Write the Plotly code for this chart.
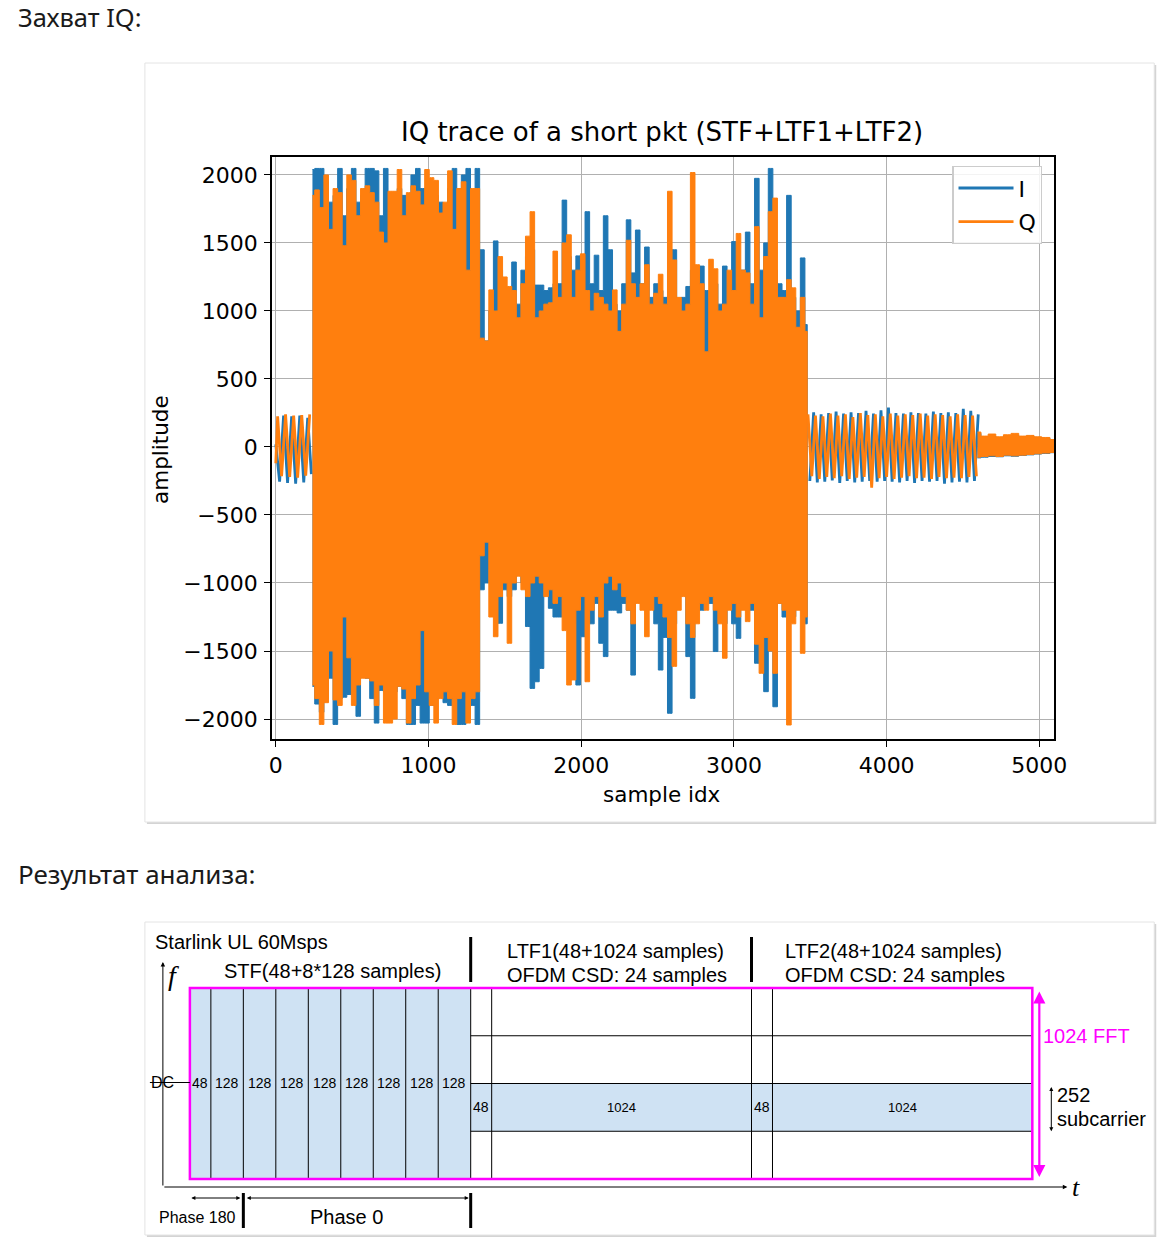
import plotly.graph_objects as go

# figure size; drawing coordinates below are pixels of the reference picture
W, H = 1172, 1237
SX_A, SX_B = 3.0, 0.987      # horizontal page->screen mapping observed in the renders


def fx(X):
    """figure pixel for a reference pixel X (horizontal)."""
    return (X - SX_A) / SX_B


# ===================== DATA =====================
x_tickvals = [0, 1000, 2000, 3000, 4000, 5000]
y_tickvals = [-2000, -1500, -1000, -500, 0, 500, 1000, 1500, 2000]

# lead-in (samples 0..233): oscillation peaks / troughs
lead_i_x = [0, 25, 51, 77, 104, 130, 157, 183, 209, 233]
lead_i_y = [20, -255, 230, -265, 225, -270, 230, -260, 215, -200]
lead_q_x = [0, 12, 38, 64, 91, 117, 143, 170, 196, 222]
lead_q_y = [-120, 225, -215, 240, -220, 230, -225, 235, -210, 240]

# dense part: envelope (max / min in each 30-sample bin)
stf_x = list(range(240, 1321, 30))    # STF section sample index
ltf_x = list(range(1350, 3481, 30))   # LTF1+LTF2 section sample index

i_hi_stf = [2040, 2048, 2048, 1950, 1800, 1850, 2048, 1700, 1900, 2048, 1800, 1850, 2048,
            2048, 2030, 1700, 2048, 1800, 1800, 1900, 1850, 1850, 2000, 2048, 1900, 1900,
            1900, 1850, 1800, 1750, 1900, 2048, 1900, 2000, 2048, 1850, 2048]
q_hi_stf = [1850, 1890, 1760, 2000, 1600, 1900, 1870, 1480, 2000, 1960, 1700, 1900, 1920,
            1870, 1800, 1580, 1500, 1880, 1880, 2040, 1700, 1870, 1920, 1880, 1780, 2040,
            1980, 1960, 1720, 1800, 2030, 1600, 1900, 1950, 1300, 1900, 1900]
i_lo_stf = [-1760, -1890, -1950, -1850, -1700, -2040, -1850, -1840, -1820, -1800, -1980,
            -1650, -1700, -1850, -2030, -1790, -1800, -1900, -1800, -1760, -1850, -2040,
            -2040, -1900, -2030, -2030, -1900, -1850, -1800, -1880, -1900, -1850, -2040,
            -2040, -1850, -1900, -2040]
q_lo_stf = [-1750, -1850, -2040, -1880, -1500, -1860, -1900, -1250, -1550, -1900, -1750,
            -1700, -1700, -1720, -1900, -1750, -2030, -2030, -2000, -1760, -1780, -2030,
            -1850, -1750, -1350, -1800, -1900, -2030, -1850, -1800, -1850, -2040, -1850,
            -1800, -2030, -1850, -1800]

i_hi_ltf = [1450, 780, 1000, 1515, 1300, 1150, 1100, 1360, 1050, 1300, 1400, 1450, 1190,
            1190, 1150, 1170, 1200, 1200, 1815, 1400, 1300, 1405, 1300, 1730, 1200, 1410,
            1150, 1700, 1450, 1050, 1000, 1200, 1670, 1280, 1595, 1200, 1470, 1100, 1200,
            1150, 1100, 1300, 1450, 1050, 1100, 1180, 1300, 1250, 1330, 1150, 1100, 1200,
            1050, 1330, 1200, 1510, 1200, 1300, 1580, 1200, 1975, 1300, 1500, 2048, 1300,
            1200, 1150, 1850, 1100, 1000, 1390, 900]
q_hi_ltf = [800, 780, 1155, 1000, 1400, 1250, 1180, 1150, 950, 1200, 1550, 1730, 950,
            1000, 1050, 1060, 1440, 1100, 1500, 1560, 1100, 1300, 1420, 1150, 1000, 1130,
            1100, 1050, 1000, 1155, 850, 1050, 1520, 1200, 1100, 1200, 1340, 1050, 1130,
            1270, 1050, 1880, 1375, 1100, 1000, 1050, 2018, 1340, 1200, 700, 1380, 1310,
            1000, 1050, 1300, 1150, 1570, 1300, 1280, 1050, 1620, 950, 1400, 1730, 1830,
            1100, 1100, 1230, 1170, 880, 1100, 850]
i_lo_ltf = [-1050, -1000, -900, -1000, -1296, -1050, -1100, -1050, -800, -1000, -1320,
            -1775, -1726, -1628, -1050, -1186, -1250, -1250, -1100, -1200, -1300, -1750,
            -1395, -1200, -1300, -1150, -1443, -1541, -1200, -1200, -1220, -1150, -1200,
            -1677, -1100, -1100, -1200, -1100, -1300, -1640, -1400, -1958, -1300, -1100,
            -1050, -1541, -1848, -1100, -1200, -1150, -1150, -1504, -1150, -1300, -1150,
            -1300, -1407, -1150, -1200, -1200, -1590, -1400, -1799, -1500, -1910, -1150,
            -1250, -1200, -1248, -1150, -1200, -1300]
q_lo_ltf = [-800, -700, -1250, -1395, -1100, -1000, -1443, -1000, -950, -1050, -1100,
            -1000, -950, -1000, -1100, -1050, -1150, -1100, -1350, -1750, -1713, -1200,
            -1100, -1726, -1200, -1100, -1250, -1000, -950, -1050, -1000, -1100, -1200,
            -1300, -1150, -1200, -1395, -1200, -1100, -1150, -1250, -1400, -1613, -1200,
            -1100, -1300, -1400, -1300, -1150, -1200, -1100, -1200, -1300, -1553, -1200,
            -1150, -1250, -1200, -1284, -1150, -1450, -1664, -1400, -1500, -1664, -1150,
            -1200, -2044, -1300, -1200, -1517, -1250]

# quiet part after the LTFs: oscillation peaks / troughs
mid_q_x = [3485, 3510, 3534, 3559, 3583, 3608, 3632, 3657, 3681, 3706, 3730, 3755, 3779,
           3804, 3828, 3853, 3877, 3902, 3926, 3951, 3975, 4000, 4024, 4049, 4073, 4098,
           4122, 4147, 4171, 4196, 4220, 4245, 4269, 4294, 4318, 4343, 4367, 4392, 4416,
           4441, 4465, 4490, 4514, 4539, 4563, 4588]
mid_q_y = [240, -215, 230, -235, 225, -220, 245, -230, 230, -215, 240, -235, 220, -225,
           250, -220, 235, -300, 240, -230, 225, -220, 245, -235, 230, -225, 240, -215,
           235, -230, 245, -225, 230, -235, 240, -220, 235, -230, 225, -225, 240, -230,
           235, -220, 230, -215]
mid_i_x = [3497, 3522, 3546, 3571, 3595, 3620, 3644, 3669, 3693, 3718, 3742, 3767, 3791,
           3816, 3840, 3865, 3889, 3914, 3938, 3963, 3987, 4012, 4036, 4061, 4085, 4110,
           4134, 4159, 4183, 4208, 4232, 4257, 4281, 4306, 4330, 4355, 4379, 4404, 4428,
           4453, 4477, 4502, 4526, 4551, 4575, 4600]
mid_i_y = [-250, 255, -260, 240, -255, 250, -245, 260, -265, 245, -250, 255, -260, 250,
           -255, 265, -250, 245, -255, 270, -250, 290, -255, 250, -260, 245, -250, 255,
           -265, 250, -250, 245, -255, 260, -250, 250, -270, 255, -260, 250, -255, 280,
           -260, 265, -250, 240]

# residual tail: envelope
tail_x = [4595, 4640, 4690, 4740, 4790, 4840, 4890, 4940, 4990, 5040, 5098]
tail_q_hi = [110, 80, 95, 75, 90, 100, 80, 85, 75, 70, 55]
tail_q_lo = [-75, -70, -65, -70, -60, -65, -60, -55, -50, -45, -40]
tail_i_hi = [100, 70, 80, 70, 80, 85, 75, 80, 70, 65, 50]
tail_i_lo = [-80, -75, -70, -72, -65, -68, -62, -58, -52, -48, -42]

# analysis diagram
stf_cells = [48, 128, 128, 128, 128, 128, 128, 128, 128]
ltf_cells = [48, 1024]
fft_size = 1024
fft_rows = [0, 256, 512, 768, 1024]
band_rows = (512, 768)

# ===================== LAYOUT CONSTANTS =====================
BLUE, ORANGE = "#1f77b4", "#ff7f0e"
LBLUE, MAG = "#cfe2f3", "#ff00ff"
MPL = "DejaVu Sans"
ARIAL = "Liberation Sans"
cell_w = {48: 21.0, 128: 32.5, 1024: 260.0}   # drawn width of a cell (px)
DX0, DTOP, DBOT = 190, 988, 1179                # diagram box (px)

fig = go.Figure()


def band(xs, hi, lo, color):
    return go.Scatter(x=xs + xs[::-1], y=hi + lo[::-1], mode="lines", fill="toself",
                      fillcolor=color, line=dict(color=color, width=1, shape="hvh"),
                      hoverinfo="skip", showlegend=False)


dense_x = stf_x + ltf_x
series = [
    ("I", BLUE, lead_i_x, lead_i_y, i_hi_stf + i_hi_ltf, i_lo_stf + i_lo_ltf,
     mid_i_x, mid_i_y, tail_i_hi, tail_i_lo),
    ("Q", ORANGE, lead_q_x, lead_q_y, q_hi_stf + q_hi_ltf, q_lo_stf + q_lo_ltf,
     mid_q_x, mid_q_y, tail_q_hi, tail_q_lo),
]
for name, col, lx, ly, hi, lo, mx, my, thi, tlo in series:
    fig.add_trace(go.Scatter(x=lx, y=ly, mode="lines", name=name, legendgroup=name,
                             line=dict(color=col, width=2.8), hoverinfo="skip"))
    fig.add_trace(band(dense_x, hi, lo, col))
    fig.add_trace(go.Scatter(x=mx, y=my, mode="lines", legendgroup=name, showlegend=False,
                             line=dict(color=col, width=2.8), hoverinfo="skip"))
    fig.add_trace(band(tail_x, thi, tlo, col))

# invisible trace on the pixel overlay axes
fig.add_trace(go.Scatter(x=[None], y=[None], xaxis="x2", yaxis="y2", showlegend=False,
                         hoverinfo="skip"))

shapes = []
ann = []


def pbox(x0, y0, x1, y1, **kw):
    d = dict(type="rect", xref="paper", yref="paper", x0=fx(x0) / W, x1=fx(x1) / W,
             y0=1 - y1 / H, y1=1 - y0 / H, layer="below")
    d.update(kw)
    return d


# cards
for (x0, y0, x1, y1) in [(145, 63, 1155, 822), (145, 922, 1155, 1235)]:
    shapes.append(pbox(x0 + 2, y0 + 2, x1 + 2, y1 + 2, fillcolor="#d4d4d4", line=dict(width=0)))
    shapes.append(pbox(x0, y0, x1, y1, fillcolor="white", line=dict(color="#e4e4e4", width=1)))


def line(x0, y0, x1, y1, w=1, c="black"):
    shapes.append(dict(type="line", xref="x2", yref="y2", x0=x0, y0=y0, x1=x1, y1=y1,
                       line=dict(color=c, width=w), layer="above"))


def rect(x0, y0, x1, y1, fill=None, lc=None, lw=0):
    shapes.append(dict(type="rect", xref="x2", yref="y2", x0=x0, y0=y0, x1=x1, y1=y1,
                       fillcolor=fill if fill else "rgba(0,0,0,0)",
                       line=dict(color=lc if lc else "rgba(0,0,0,0)", width=lw), layer="above"))


def text(x, y, s, size=20, color="black", family=ARIAL, xa="left", angle=0):
    ann.append(dict(xref="x2", yref="y2", x=x, y=y, text=s, showarrow=False,
                    xanchor=xa, yanchor="middle", textangle=angle, borderpad=0,
                    font=dict(family=family, size=size, color=color)))


def arrow(x0, y0, x1, y1, both=False, color="black", w=1, size=1.0, head=2):
    ann.append(dict(xref="x2", yref="y2", axref="x2", ayref="y2", x=x1, y=y1, ax=x0, ay=y0,
                    text="", showarrow=True, arrowhead=head, startarrowhead=head,
                    arrowsize=size, startarrowsize=size, arrowwidth=w, arrowcolor=color,
                    arrowside="end+start" if both else "end", standoff=0, startstandoff=0))


# --- page texts
text(17, 17, "Захват IQ:", size=25.5, color="#1a1a1a", family="Noto Sans")
text(17, 874, "Результат анализа:", size=26, color="#1a1a1a", family="Noto Sans")

# --- chart texts
text(662, 132, "IQ trace of a short pkt (STF+LTF1+LTF2)", size=26, family=MPL, xa="center")
text(160, 449, "amplitude", size=21.5, family=MPL, xa="center", angle=-90)
text(662, 794, "sample idx", size=21.5, family=MPL, xa="center")

# --- diagram geometry from cell sizes
def yrow(r):
    return DTOP + (DBOT - DTOP) * r / fft_size

stf_edges = [DX0]
for c in stf_cells:
    stf_edges.append(stf_edges[-1] + cell_w[c])
ltf_edges = [stf_edges[-1]]
for _ in range(2):
    for c in ltf_cells:
        ltf_edges.append(ltf_edges[-1] + cell_w[c])
DX1 = ltf_edges[-1]

rect(DX0, DTOP, stf_edges[-1], DBOT, fill=LBLUE)
rect(stf_edges[-1], yrow(band_rows[0]), DX1, yrow(band_rows[1]), fill=LBLUE)
for xe in stf_edges[1:-1]:
    line(xe, DTOP, xe, DBOT)
for xe in ltf_edges[:-1]:
    line(xe, DTOP, xe, DBOT)
for r in fft_rows[1:-1]:
    line(stf_edges[-1], yrow(r), DX1, yrow(r))
rect(DX0, DTOP, DX1, DBOT, lc=MAG, lw=2.5)

for i, c in enumerate(stf_cells):
    text((stf_edges[i] + stf_edges[i + 1]) / 2, yrow(512) - 1, str(c), size=14, xa="center")
for k in range(2):
    for j, c in enumerate(ltf_cells):
        e0 = ltf_edges[2 * k + j]
        e1 = ltf_edges[2 * k + j + 1]
        text((e0 + e1) / 2, (yrow(band_rows[0]) + yrow(band_rows[1])) / 2, str(c),
             size=14 if c == 48 else 13, xa="center")

# headers
text(154, 942, "Starlink UL 60Msps", size=20)
text(333, 971, "STF(48+8*128 samples)", size=20, xa="center")
text(506, 951, "LTF1(48+1024 samples)", size=20)
text(506, 975, "OFDM CSD: 24 samples", size=20)
text(785, 951, "LTF2(48+1024 samples)", size=20)
text(785, 975, "OFDM CSD: 24 samples", size=20)
line(stf_edges[-1], 937, stf_edges[-1], 982, w=3)
line(ltf_edges[2], 937, ltf_edges[2], 982, w=3)

# axes of the diagram
arrow(163, 1187, 163, 962, w=1, size=0.9)
arrow(163, 1187, 1068, 1187, w=1, size=0.9)
text(174, 975, "<i>f</i>", size=28, family="Liberation Serif", xa="center")
text(1077, 1187, "<i>t</i>", size=26, family="Liberation Serif", xa="center")
line(150, yrow(512) - 1, DX0, yrow(512) - 1)
text(150, yrow(512) - 1, "DC", size=16)

# FFT / subcarrier marks
arrow(1040, DTOP + 2, 1040, DBOT - 2, both=True, color=MAG, w=2.2, size=1.1)
text(1043, 1036, "1024 FFT", size=20, color=MAG)
arrow(1052, yrow(band_rows[0]) + 2, 1052, yrow(band_rows[1]), both=True, w=1, size=0.8)
text(1057, 1095, "252", size=20)
text(1057, 1119, "subcarrier", size=20)

# phases
arrow(DX0, 1198, stf_edges[2] - 3, 1198, both=True, w=1, size=0.8)
arrow(stf_edges[2] + 2, 1198, stf_edges[-1] - 2, 1198, both=True, w=1, size=0.8)
line(stf_edges[2], 1193, stf_edges[2], 1228, w=3)
line(stf_edges[-1], 1193, stf_edges[-1], 1228, w=3)
text(158, 1217, "Phase 180", size=16)
text(347, 1217, "Phase 0", size=20, xa="center")

axis_common = dict(showline=True, linecolor="black", linewidth=1.5, mirror=True,
                   ticks="outside", ticklen=6, tickwidth=1.3, tickcolor="black",
                   showgrid=True, gridcolor="#b0b0b0", gridwidth=1.1, zeroline=False,
                   tickfont=dict(family=MPL, size=22, color="black"), fixedrange=True)

fig.update_layout(
    width=W, height=H, autosize=False,
    margin=dict(l=0, r=0, t=0, b=0),
    paper_bgcolor="white", plot_bgcolor="rgba(0,0,0,0)",
    xaxis=dict(domain=[fx(272) / W, fx(1055) / W], range=[-26, 5098], tickvals=x_tickvals,
               anchor="y", **axis_common),
    yaxis=dict(domain=[1 - 739 / H, 1 - 157 / H], range=[-2147, 2132], tickvals=y_tickvals,
               anchor="x", ticklabelstandoff=2, **axis_common),
    xaxis2=dict(domain=[0, 1], range=[SX_A, SX_A + SX_B * W], visible=False, anchor="y2",
                fixedrange=True),
    yaxis2=dict(domain=[0, 1], range=[H, 0], visible=False, anchor="x2", fixedrange=True),
    legend=dict(x=fx(1043) / W, xanchor="right", y=1 - 166 / H, yanchor="top",
                bgcolor="rgba(255,255,255,0.85)", bordercolor="#cccccc", borderwidth=1.2,
                font=dict(family=MPL, size=22, color="black"), tracegroupgap=2,
                itemwidth=55),
    shapes=shapes, annotations=ann, showlegend=True,
)

fig.write_html("out.html", config={"displayModeBar": False, "responsive": False},
               post_script="document.body.style.margin='0';"
                           "document.body.style.overflow='hidden';"
                           "document.documentElement.style.overflow='hidden';")
